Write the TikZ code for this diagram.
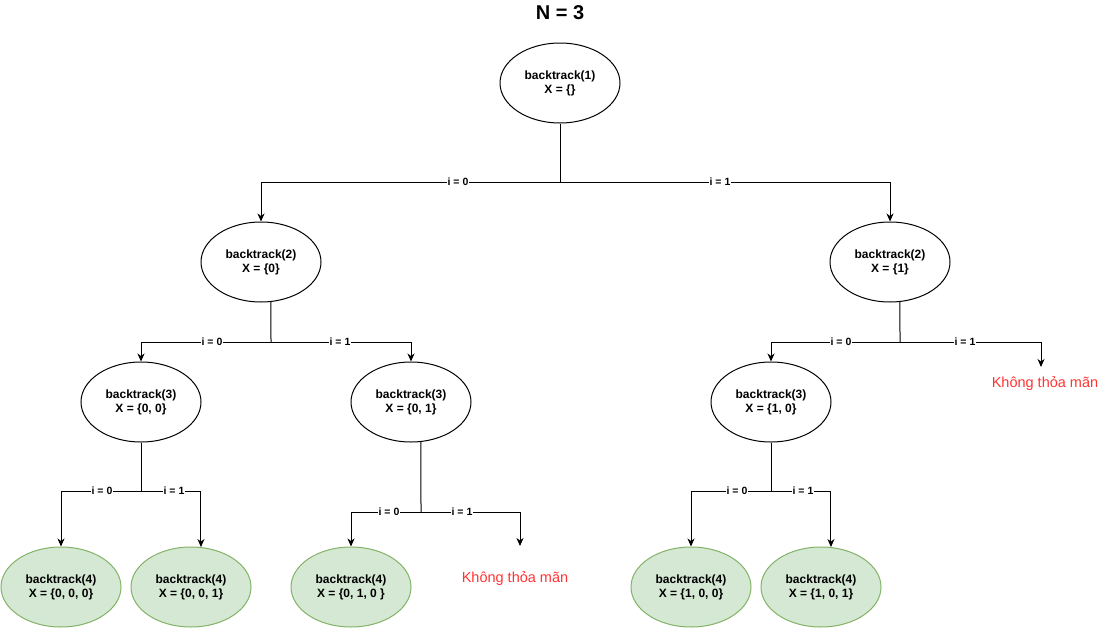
\documentclass[tikz,border=0pt]{standalone}
\usepackage{fontspec}
\setmainfont{Liberation Sans}
\usetikzlibrary{arrows.meta,shapes.geometric}
\definecolor{gfill}{HTML}{D5E8D4}
\definecolor{gline}{HTML}{82B366}
\definecolor{redtxt}{HTML}{FF3333}
\begin{document}
\begin{tikzpicture}[x=1pt,y=-1pt,
  ell/.style={ellipse,draw=black,line width=1pt,minimum width=120pt,minimum height=80pt,inner sep=0pt,align=center,font=\fontsize{12}{14}\selectfont\bfseries},
  leaf/.style={ell,draw=gline,fill=gfill},
  conn/.style={line width=1pt},
  arr/.style={conn,-{Stealth[length=8pt,width=7pt,inset=2.5pt]}},
  lbl/.style={fill=white,inner sep=1pt,font=\fontsize{10.5}{12}\selectfont\bfseries},
  bad/.style={text=redtxt,inner sep=0pt,font=\fontsize{14.5}{16}\selectfont}]
\useasboundingbox (0,0) rectangle (1111,629);
\node[font=\fontsize{20}{22}\selectfont\bfseries] (title) at (560,13) {N = 3};
\node[ell] (r) at (560,83) {backtrack(1)\\X = \{\}};
\node[ell] (a) at (261,262) {backtrack(2)\\X = \{0\}};
\node[ell] (b) at (890,262) {backtrack(2)\\X = \{1\}};
\node[ell] (c) at (141,402) {backtrack(3)\\X = \{0, 0\}};
\node[ell] (d) at (411,402) {backtrack(3)\\X = \{0, 1\}};
\node[ell] (e) at (771,402) {backtrack(3)\\X = \{1, 0\}};
\node[leaf] (f) at (61,587) {backtrack(4)\\X = \{0, 0, 0\}};
\node[leaf] (g) at (191,587) {backtrack(4)\\X = \{0, 0, 1\}};
\node[leaf] (h) at (351,587) {backtrack(4)\\X = \{0, 1, 0 \}};
\node[leaf] (m) at (691,587) {backtrack(4)\\X = \{1, 0, 0\}};
\node[leaf] (n) at (821,587) {backtrack(4)\\X = \{1, 0, 1\}};
\node[bad] (k1t) at (1045,384) {Không thỏa mãn};
\node[bad] (k2t) at (515,579) {Không thỏa mãn};
\coordinate (j1) at (560,182);
\coordinate (j2) at (271,342);
\coordinate (j3) at (900,342);
\coordinate (j4) at (141,491);
\coordinate (j5) at (421,512);
\coordinate (j6) at (771,491);
\coordinate (k1) at (1041,367);
\coordinate (k2) at (520,546);
% connectors
\draw[conn] (r.south) -- (j1);
\draw[arr] (j1) -| (a.north);
\draw[arr] (j1) -| (b.north);
\draw[conn] (a.-76) -- (j2);
\draw[arr] (j2) -| (c.north);
\draw[arr] (j2) -| (d.north);
\draw[conn] (b.-76) -- (j3);
\draw[arr] (j3) -| (e.north);
\draw[arr] (j3) -| (k1);
\draw[conn] (c.south) -- (j4);
\draw[arr] (j4) -| (f.north);
\draw[arr] (j4) -| (g.76);
\draw[conn] (d.-76) -- (j5);
\draw[arr] (j5) -| (h.north);
\draw[arr] (j5) -| (k2);
\draw[conn] (e.south) -- (j6);
\draw[arr] (j6) -| (m.north);
\draw[arr] (j6) -| (n.76);
% labels
\node[lbl] (l1) at (458,182) {i = 0};
\node[lbl] (l2) at (720,182) {i = 1};
\node[lbl] (l3) at (212,342) {i = 0};
\node[lbl] (l4) at (340,342) {i = 1};
\node[lbl] (l5) at (841,342) {i = 0};
\node[lbl] (l6) at (965,342) {i = 1};
\node[lbl] (l7) at (102,491) {i = 0};
\node[lbl] (l8) at (174,491) {i = 1};
\node[lbl] (l9) at (389,512) {i = 0};
\node[lbl] (l10) at (462,512) {i = 1};
\node[lbl] (l11) at (737,491) {i = 0};
\node[lbl] (l12) at (803,491) {i = 1};
\end{tikzpicture}
\end{document}
